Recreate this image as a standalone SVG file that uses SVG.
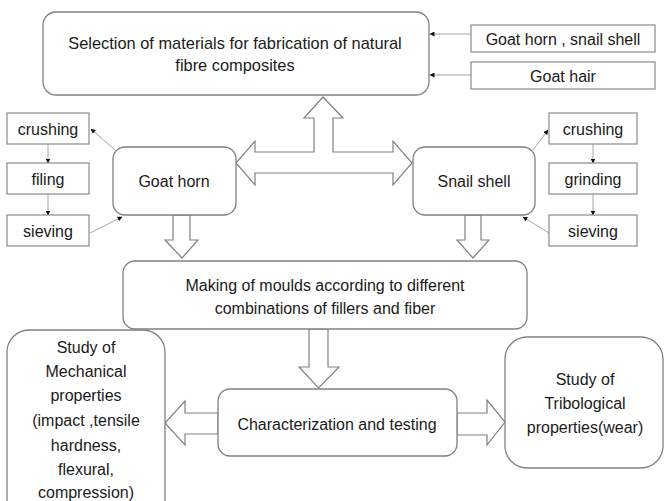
<svg xmlns="http://www.w3.org/2000/svg" width="665" height="501" viewBox="0 0 665 501">
<defs>
<style>
.t{font-family:"Liberation Sans",Arial,sans-serif;font-size:16px;fill:#1a1a1a;text-anchor:middle;dominant-baseline:central}
.rb{fill:#fff;stroke:#808080;stroke-width:1.3}
.sb{fill:#fff;stroke:#8a8a8a;stroke-width:1.2}
.ba{fill:#fff;stroke:#808080;stroke-width:1.2;stroke-linejoin:miter}
.cn{fill:none;stroke:#a6a6a6;stroke-width:1}
</style>
<marker id="ah" viewBox="0 0 10 10" refX="9" refY="5" markerWidth="5" markerHeight="5" orient="auto" markerUnits="userSpaceOnUse">
<path d="M0,0 L10,5 L0,10 z" fill="#111"/>
</marker>
</defs>
<rect width="665" height="501" fill="#fff"/>

<g id="connectors">
<line class="cn" x1="471" y1="34" x2="430" y2="34" marker-end="url(#ah)"/>
<line class="cn" x1="471" y1="75" x2="430" y2="75" marker-end="url(#ah)"/>
<line class="cn" x1="48" y1="144" x2="48" y2="163" marker-end="url(#ah)"/>
<line class="cn" x1="48" y1="194" x2="48" y2="215" marker-end="url(#ah)"/>
<line class="cn" x1="593" y1="144" x2="593" y2="163" marker-end="url(#ah)"/>
<line class="cn" x1="593" y1="194" x2="593" y2="215" marker-end="url(#ah)"/>
<line class="cn" x1="115" y1="150" x2="91" y2="129" marker-end="url(#ah)"/>
<line class="cn" x1="90" y1="233" x2="122" y2="217" marker-end="url(#ah)"/>
<line class="cn" x1="533" y1="150" x2="548" y2="130" marker-end="url(#ah)"/>
<line class="cn" x1="549" y1="233" x2="523" y2="217" marker-end="url(#ah)"/>
<polygon class="ba" points="323,97 343,118 333,118 333,152 393,152 393,141 412,163 393,185 393,173 255,173 255,185 236,163 255,141 255,152 314,152 314,118 304,118"/>
<polygon class="ba" points="173,215 190,215 190,240 198,240 182,258 165,240 173,240"/>
<polygon class="ba" points="465,215 481,215 481,240 489,240 473,258 457,240 465,240"/>
<polygon class="ba" points="309,329 328,329 328,367 339,367 318.5,388 299,367 309,367"/>
<polygon class="ba" points="218,413 185,413 185,401 165,423 185,445 185,434 218,434"/>
<polygon class="ba" points="457,413 487,413 487,400 505,422 487,445 487,435 457,435"/>
</g>

<g id="selection">
<rect class="rb" x="43" y="12" width="386" height="83" rx="13"/>
<text class="t" x="235" y="43" style="font-size:16.4px">Selection of materials for fabrication of natural</text>
<text class="t" x="235" y="65" style="font-size:16.4px">fibre composites</text>
</g>
<g id="ghss">
<rect class="sb" x="471" y="25" width="184" height="27"/>
<text class="t" x="563" y="39">Goat horn , snail shell</text>
</g>
<g id="goathair">
<rect class="sb" x="471" y="62" width="184" height="27"/>
<text class="t" x="563" y="76">Goat hair</text>
</g>

<g id="l-crushing"><rect class="sb" x="7" y="113" width="82" height="31"/><text class="t" x="48" y="129">crushing</text></g>
<g id="l-filing"><rect class="sb" x="7" y="163" width="82" height="31"/><text class="t" x="48" y="179">filing</text></g>
<g id="l-sieving"><rect class="sb" x="7" y="215" width="82" height="31"/><text class="t" x="48" y="231">sieving</text></g>

<g id="r-crushing"><rect class="sb" x="549" y="113" width="88" height="31"/><text class="t" x="593" y="129">crushing</text></g>
<g id="r-grinding"><rect class="sb" x="549" y="163" width="88" height="31"/><text class="t" x="593" y="179">grinding</text></g>
<g id="r-sieving"><rect class="sb" x="549" y="215" width="88" height="31"/><text class="t" x="593" y="231">sieving</text></g>

<g id="goathorn">
<rect class="rb" x="113" y="147" width="123" height="68" rx="12"/>
<text class="t" x="174" y="181">Goat horn</text>
</g>
<g id="snailshell">
<rect class="rb" x="413" y="147" width="122" height="68" rx="12"/>
<text class="t" x="474" y="181">Snail shell</text>
</g>

<g id="moulds">
<rect class="rb" x="123" y="261" width="404" height="68" rx="12"/>
<text class="t" x="325" y="285">Making of moulds according to different</text>
<text class="t" x="325" y="308">combinations of fillers and fiber</text>
</g>

<g id="characterization">
<rect class="rb" x="218" y="389" width="239" height="67" rx="12"/>
<text class="t" x="337" y="424">Characterization and testing</text>
</g>

<g id="mechanical">
<rect class="rb" x="7" y="330" width="158" height="200" rx="22"/>
<text class="t" x="86" y="347">Study of</text>
<text class="t" x="86" y="371">Mechanical</text>
<text class="t" x="86" y="395">properties</text>
<text class="t" x="86" y="420">(impact ,tensile</text>
<text class="t" x="86" y="445">hardness,</text>
<text class="t" x="86" y="469">flexural,</text>
<text class="t" x="86" y="492">compression)</text>
</g>

<g id="tribological">
<rect class="rb" x="505" y="337" width="158" height="131" rx="22"/>
<text class="t" x="585" y="379">Study of</text>
<text class="t" x="585" y="403">Tribological</text>
<text class="t" x="585" y="427">properties(wear)</text>
</g>
</svg>
